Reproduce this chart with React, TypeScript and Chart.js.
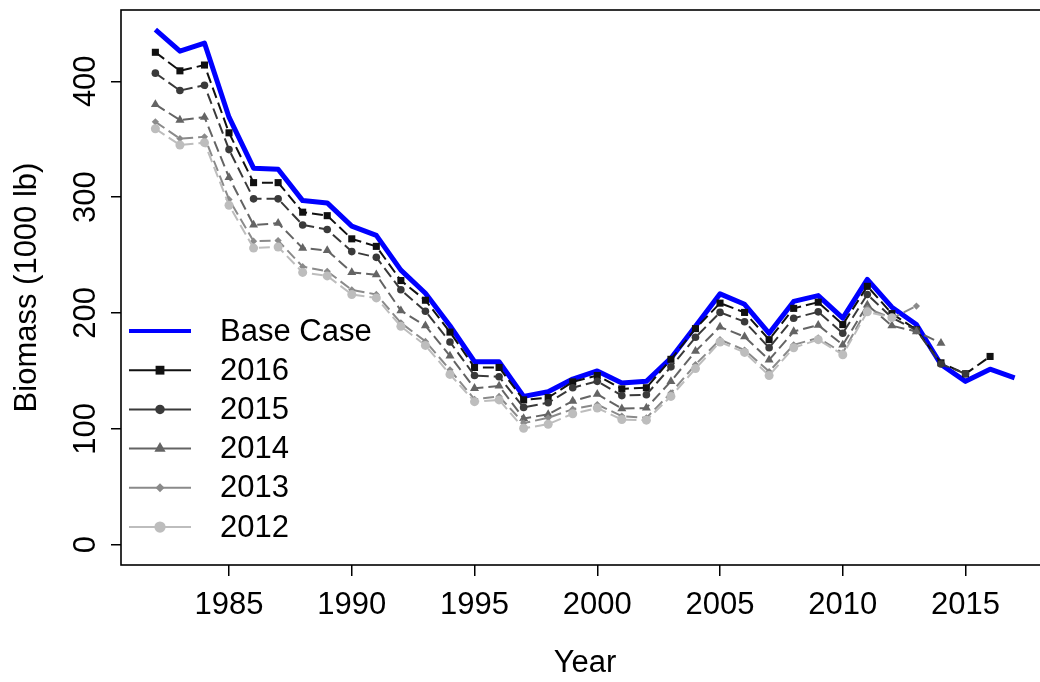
import React, { useEffect, useRef } from "react";
import { Chart, registerables } from "chart.js";
import { drawPoint } from "chart.js/helpers";

Chart.register(...registerables);

const years = [
  1982, 1983, 1984, 1985, 1986, 1987, 1988, 1989, 1990, 1991,
  1992, 1993, 1994, 1995, 1996, 1997, 1998, 1999, 2000, 2001,
  2002, 2003, 2004, 2005, 2006, 2007, 2008, 2009, 2010, 2011,
  2012, 2013, 2014, 2015, 2016, 2017,
];

const baseCase = [
  444.5, 426, 433, 369, 325, 324, 297, 295, 275, 267,
  237, 217, 189, 158, 158, 128, 132, 143, 150, 139.5,
  141, 161, 188.5, 216.5, 207.5, 182.5, 210, 215, 195.5, 229,
  205, 190, 155.5, 141, 151.5, 144,
];

const run2016 = [
  425, 409, 414, 355.5, 312.5, 312.5, 287, 284, 264, 257.5,
  228, 211, 183.5, 153, 153, 125, 127, 140.5, 146, 134.5,
  135.5, 160, 186.5, 208.5, 200.5, 177, 204, 209.3, 190, 223,
  199.5, 185.5, 157, 147.5, 162.5,
];

const run2015 = [
  407, 392, 396.5, 341, 298.5, 298.5, 276, 272, 253, 248,
  220, 201.5, 175, 146, 145, 118.5, 122.5, 135.5, 141, 128.7,
  129.5, 153.5, 179, 200.5, 192.5, 170, 195.5, 201, 182.5, 216,
  196, 185, 156, 147.5,
];

const run2014 = [
  380, 366.5, 369, 317, 276, 277.5, 256, 254, 235, 233,
  202, 189, 163, 135, 137, 109, 112.5, 124, 130, 117.5,
  118, 141, 167, 188, 179.5, 159.5, 184, 189.5, 172.5, 207,
  189, 184, 174,
];

const run2013 = [
  365, 350.5, 352, 298, 262, 262.5, 240, 236, 220, 216,
  191.5, 175.5, 151, 125.5, 128, 105, 109.5, 117, 121, 111,
  109.5, 131, 155.5, 177, 168, 149.5, 172.5, 178.5, 165.5, 204,
  195.5, 206,
];

const run2012 = [
  359, 345, 347, 293, 256, 257, 235, 232, 216, 213,
  188.5, 172, 147, 123.5, 125, 100.5, 104, 113, 118, 108,
  107.5, 128, 152, 175, 166, 146, 170, 177, 164, 201,
  196,
];

const xTickValues = [1985, 1990, 1995, 2000, 2005, 2010, 2015];
const yTickValues = [0, 100, 200, 300, 400];

const seriesLabels = ["Base Case", "2016", "2015", "2014", "2013", "2012"];

const FONT = "'Liberation Sans', Arial, Helvetica, sans-serif";

type Style = {
  color: string;
  width: number;
  point: string | false;
  radius: number;
  order: number;
};

const styles: Style[] = [
  { color: "#0000ff", width: 5, point: false, radius: 0, order: 6 },
  { color: "#111111", width: 2, point: "rect", radius: 5, order: 5 },
  { color: "#3a3a3a", width: 2, point: "circle", radius: 3.8, order: 4 },
  { color: "#646464", width: 2, point: "triangle", radius: 5.2, order: 3 },
  { color: "#8a8a8a", width: 2, point: "rectRot", radius: 3.6, order: 2 },
  { color: "#bdbdbd", width: 2, point: "circle", radius: 4.5, order: 1 },
];

const seriesValues = [baseCase, run2016, run2015, run2014, run2013, run2012];

export default function App() {
  const ref = useRef<HTMLCanvasElement | null>(null);

  useEffect(() => {
    const canvas = ref.current;
    if (!canvas) return;

    const datasets = seriesValues.map((vals, i) => {
      const s = styles[i];
      return {
        label: seriesLabels[i],
        data: vals.map((v, k) => ({ x: years[k], y: v })),
        borderColor: s.color,
        backgroundColor: s.color,
        borderWidth: s.width,
        borderDash: i === 0 ? [] : [11, 5],
        pointStyle: s.point === false ? "circle" : s.point,
        pointRadius: s.point === false ? 0 : s.radius,
        pointBackgroundColor: s.color,
        pointBorderColor: s.color,
        pointBorderWidth: 0,
        tension: 0,
        order: s.order,
        borderJoinStyle: "round" as const,
        borderCapStyle: "butt" as const,
      };
    });

    const boxPlugin = {
      id: "rbox",
      beforeDatasetsDraw(chart: any) {
        const { ctx, chartArea: a } = chart;
        ctx.save();
        ctx.strokeStyle = "#000";
        ctx.lineWidth = 1.6;
        ctx.strokeRect(a.left, a.top, a.right - a.left, a.bottom - a.top);
        ctx.restore();
      },
    };

    const legendPlugin = {
      id: "rlegend",
      afterDraw(chart: any) {
        const ctx = chart.ctx;
        ctx.save();
        const x0 = 129;
        const x1 = 191;
        const xm = 160;
        const xt = 220;
        const y0 = 331;
        const step = 39.2;
        seriesLabels.forEach((lab, i) => {
          const s = styles[i];
          const y = y0 + i * step;
          ctx.strokeStyle = s.color;
          ctx.lineWidth = i === 0 ? 4 : 2;
          ctx.setLineDash([]);
          ctx.beginPath();
          ctx.moveTo(x0, y);
          ctx.lineTo(x1, y);
          ctx.stroke();
          if (s.point !== false) {
            ctx.fillStyle = s.color;
            drawPoint(
              ctx,
              { pointStyle: s.point as any, radius: s.radius * 1.25, rotation: 0, borderWidth: 0 } as any,
              xm,
              y
            );
          }
          ctx.fillStyle = "#000";
          ctx.font = `31px ${FONT}`;
          ctx.textAlign = "left";
          ctx.textBaseline = "middle";
          ctx.fillText(lab, xt, y + 1);
        });
        ctx.restore();
      },
    };

    const chart = new Chart(canvas, {
      type: "line",
      data: { datasets: datasets as any },
      options: {
        responsive: false,
        animation: false,
        events: [],
        layout: { padding: { top: 10, right: 11, bottom: 0, left: 0 } },
        plugins: {
          legend: { display: false },
          tooltip: { enabled: false },
        },
        scales: {
          x: {
            type: "linear",
            min: 1980.6,
            max: 2018.4,
            afterBuildTicks: (scale: any) => {
              scale.ticks = xTickValues.map((v) => ({ value: v }));
            },
            afterFit: (scale: any) => {
              scale.height = 117;
              scale.paddingLeft = 0;
              scale.paddingRight = 0;
            },
            grid: {
              drawOnChartArea: false,
              drawTicks: true,
              tickLength: 11,
              color: "#000",
              lineWidth: 1.5,
            },
            border: { display: false },
            ticks: {
              color: "#000",
              font: { family: FONT, size: 31 },
              padding: 11,
              maxRotation: 0,
              minRotation: 0,
              autoSkip: false,
              callback: (v: any) => String(v),
            },
            title: {
              display: true,
              text: "Year",
              color: "#000",
              font: { family: FONT, size: 31 },
              padding: { top: 0, bottom: 0 },
            },
          },
          y: {
            type: "linear",
            min: -17.5,
            max: 461.5,
            afterBuildTicks: (scale: any) => {
              scale.ticks = yTickValues.map((v) => ({ value: v }));
            },
            afterFit: (scale: any) => {
              scale.width = 121;
              scale.paddingTop = 0;
              scale.paddingBottom = 0;
            },
            grid: {
              drawOnChartArea: false,
              drawTicks: true,
              tickLength: 10,
              color: "#000",
              lineWidth: 1.5,
            },
            border: { display: false },
            ticks: {
              color: "#000",
              font: { family: FONT, size: 31 },
              padding: -1,
              minRotation: 90,
              maxRotation: 90,
              crossAlign: "center",
              autoSkip: false,
              callback: (v: any) => String(v),
            },
            title: {
              display: true,
              text: "Biomass (1000 lb)",
              color: "#000",
              font: { family: FONT, size: 31 },
              padding: { top: 9, bottom: 0 },
            },
          },
        },
      },
      plugins: [boxPlugin, legendPlugin],
    });

    return () => {
      chart.destroy();
    };
  }, []);

  return (
    <div
      style={{
        position: "fixed",
        left: 0,
        top: 0,
        width: 1040,
        height: 682,
        overflow: "hidden",
        background: "#fff",
      }}
    >
      <canvas ref={ref} width={1060} height={682} style={{ display: "block" }} />
    </div>
  );
}
